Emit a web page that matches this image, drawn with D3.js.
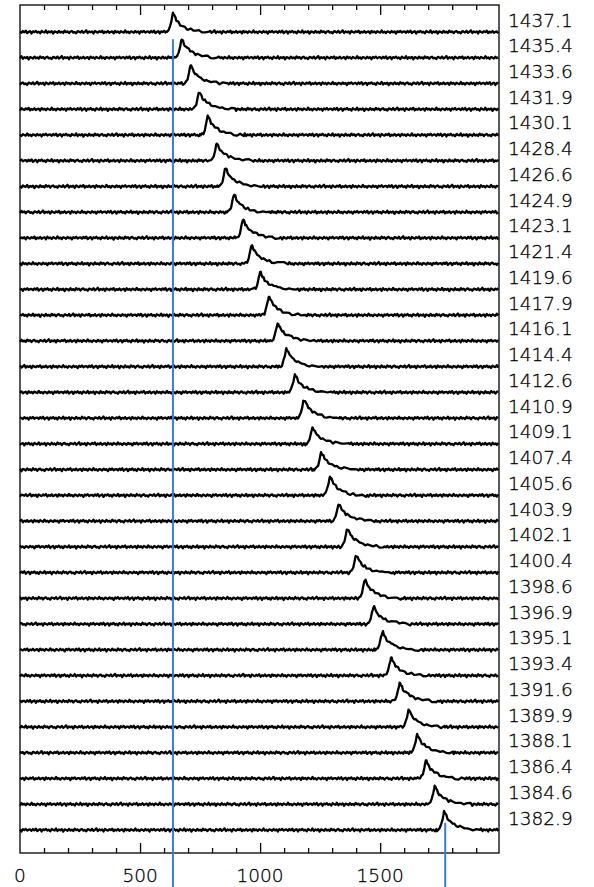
<!DOCTYPE html>
<html>
<head>
<meta charset="utf-8">
<script src="https://cdn.jsdelivr.net/npm/d3@7"></script>
<style>
  body { margin: 0; background: #fff; }
  text { font-family: "DejaVu Sans", sans-serif; font-weight: 200; fill: #000; stroke: #000; stroke-width: 0.3; }
</style>
</head>
<body>
<svg id="chart" width="594" height="887"></svg>
<script>
// row labels, top to bottom
var rowLabels = ['1437.1', '1435.4', '1433.6', '1431.9', '1430.1', '1428.4', '1426.6', '1424.9',
    '1423.1', '1421.4', '1419.6', '1417.9', '1416.1', '1414.4', '1412.6', '1410.9',
    '1409.1', '1407.4', '1405.6', '1403.9', '1402.1', '1400.4', '1398.6', '1396.9',
    '1395.1', '1393.4', '1391.6', '1389.9', '1388.1', '1386.4', '1384.6', '1382.9'];

// peak position of each row (x units) and its height
var peakPos = [637, 673, 710, 746, 782, 819, 855, 891, 928, 964, 1000, 1036, 1073, 1109, 1145, 1182,
    1218, 1254, 1291, 1327, 1363, 1400, 1436, 1472, 1509, 1545, 1581, 1618, 1654, 1690, 1727, 1766];
var peakHeight = [1.0, 1.0, 1.0, 0.95, 1.0, 0.95, 1.0, 0.95, 1.0, 1.0, 0.95, 1.0, 0.95, 1.0, 0.95, 1.0,
    0.9, 0.95, 1.0, 0.95, 1.0, 0.95, 1.0, 0.95, 1.0, 0.95, 1.0, 0.95, 1.0, 0.95, 1.0, 1.0];

// peak profile: offset from peak (x units) -> relative height
var profOffset = [-30, -24, -18, -12, -6, -2, 0, 3, 6, 10, 14, 19, 24, 30, 36, 43, 50, 58, 66, 75, 85, 96,
    108, 121, 135, 150];
var profShape = [0, 0.03, 0.1, 0.3, 0.65, 0.9, 1.0, 0.98, 0.9, 0.78, 0.67, 0.57, 0.5, 0.43, 0.37, 0.31,
    0.26, 0.21, 0.17, 0.13, 0.1, 0.07, 0.05, 0.03, 0.01, 0];

// baseline jitter (relative height units)
var jitter = [0.03, -0.05, 0.06, -0.02, 0.08, -0.07, 0.01, 0.05, -0.09, 0.04, -0.01, 0.07, -0.04, 0.02, -0.08,
    0.06, 0.00, -0.03, 0.09, -0.06, 0.03, -0.02, 0.05, -0.10, 0.04, 0.01, -0.05, 0.07, -0.03, 0.02, -0.06,
    0.08, -0.01, 0.04, -0.07, 0.03, 0.06, -0.04, 0.00, -0.08, 0.05, 0.02, -0.03, 0.07, -0.05, 0.01, 0.10,
    -0.06, 0.03, -0.02, 0.04, -0.09, 0.06, 0.00, -0.04, 0.05, -0.01, 0.08, -0.07, 0.02, -0.03, 0.06, -0.05,
    0.01, 0.04, -0.08, 0.07, -0.02, 0.03, -0.06, 0.05, 0.00, -0.04, 0.09, -0.03, 0.02, -0.07, 0.04, 0.01,
    -0.05, 0.06, -0.02, 0.03, -0.09, 0.05, -0.01, 0.07, -0.04, 0.02];

// blue marker lines: x value, row where they start, offset (relative height)
var markX = [637, 1771];
var markRow = ['1437.1', '1382.9'];
var markStart = [-0.4, 0.4];

var xTickLabels = [0, 500, 1000, 1500];
var xMax = 1995, step = 6;

const svg = d3.select('#chart');
const W = 594, H = 887;
const mLeft = 20, mRight = 499, mTop = 5, mBottom = 853;

const x = d3.scaleLinear().domain([0, xMax]).range([mLeft, mRight]);
const y = d3.scalePoint().domain(rowLabels).range([32, 830]);
const amp = d3.scaleLinear().domain([0, 1]).range([0, -18]);

function traceData(i) {
    var p = peakPos[i], pts = [];
    var lo = p + profOffset[0], hi = p + profOffset[profOffset.length - 1];
    var j = 0;
    for (var v = 0; v <= xMax; v += step, j++) {
        if (v > lo && v < hi) continue;
        pts.push([v, 0.9 * jitter[(j + i * 17) % jitter.length]]);
    }
    profOffset.forEach(function (o, k) {
        pts.push([p + o, profShape[k] * peakHeight[i] + 0.8 * jitter[(k * 3 + i * 7) % jitter.length]]);
    });
    pts.sort(function (a, b) { return a[0] - b[0]; });
    return pts;
}

const traces = svg.append('g');
rowLabels.forEach(function (lab, i) {
    var y0 = y(lab);
    traces.append('path')
        .datum(traceData(i))
        .attr('fill', 'none')
        .attr('stroke', '#000')
        .attr('stroke-width', 2.3)
        .attr('stroke-linejoin', 'round')
        .attr('d', d3.line().x(d => x(d[0])).y(d => y0 + amp(d[1])));
});

// row labels at right
svg.append('g').selectAll('text')
    .data(rowLabels)
    .enter().append('text')
    .attr('x', 508)
    .attr('y', d => y(d) - 12)
    .attr('dominant-baseline', 'central')
    .style('font-size', '18.5px')
    .text(d => d);

// frame
svg.append('rect')
    .attr('x', mLeft).attr('y', mTop)
    .attr('width', mRight - mLeft).attr('height', mBottom - mTop)
    .attr('fill', 'none').attr('stroke', '#000').attr('stroke-width', 1.3);

// ticks: minor every 100, major every 500, pointing inward
function addAxis(gen, ty, vals, size) {
    var g = svg.append('g').attr('transform', 'translate(0,' + ty + ')')
        .call(gen(x).tickValues(vals).tickSize(size).tickFormat(''));
    g.select('.domain').remove();
    g.selectAll('line').attr('stroke', '#000').attr('stroke-width', 1.3);
}
var minor = d3.range(100, xMax, 100).filter(v => v % 500 !== 0);
var major = d3.range(500, xMax, 500);
addAxis(d3.axisBottom, mBottom, minor, -5);
addAxis(d3.axisBottom, mBottom, major, -10);
addAxis(d3.axisTop, mTop, minor, -5);
addAxis(d3.axisTop, mTop, major, -10);

svg.append('g').selectAll('text')
    .data(xTickLabels)
    .enter().append('text')
    .attr('x', d => x(d))
    .attr('y', 875)
    .attr('text-anchor', 'middle')
    .attr('dominant-baseline', 'central')
    .style('font-size', '18.5px')
    .text(d => d);

// blue marker lines
svg.append('g').selectAll('line')
    .data(markX)
    .enter().append('line')
    .attr('x1', d => x(d)).attr('x2', d => x(d))
    .attr('y1', (d, i) => y(markRow[i]) + amp(markStart[i]))
    .attr('y2', H)
    .attr('stroke', '#2f7fe6')
    .attr('stroke-width', 2);
</script>
</body>
</html>
